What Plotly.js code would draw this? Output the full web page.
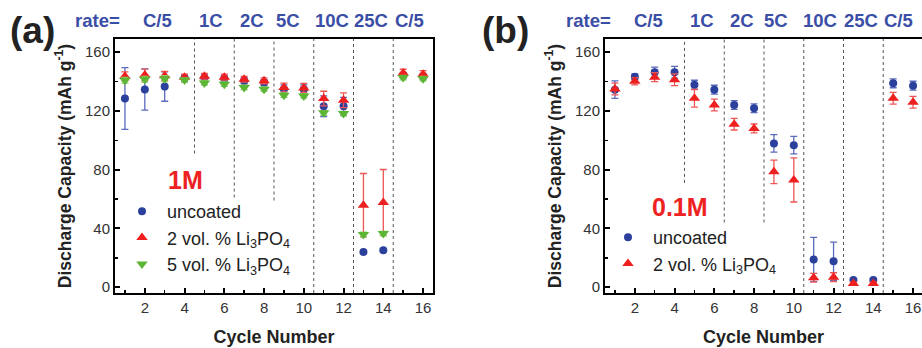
<!DOCTYPE html>
<html>
<head>
<meta charset="utf-8">
<script src="https://cdn.plot.ly/plotly-3.0.1.min.js"></script>
<style>html,body{margin:0;padding:0;background:#fff;}#chart{width:922px;height:348px;}</style>
</head>
<body>
<div id="chart"></div>
<script>
// ---------- data ----------
const cycles = [1, 2, 3, 4, 5, 6, 7, 8, 9, 10, 11, 12, 13, 14, 15, 16];
const rateLabels = ["C/5", "1C", "2C", "5C", "10C", "25C", "C/5"];

// panel (a): 1M
const a_uncoated     = [128.5, 134.6, 136.6, 142.5, 142.5, 142.0, 140.5, 139.3, 134.8, 134.8, 123.2, 123.2, 24.0, 25.2, 144.3, 143.6];
const a_uncoated_err = [21, 14, 10, 2, 2, 2, 2, 2, 3, 3, 7, 6, 1, 1, 2, 2];
const a_2vol         = [143.6, 144.5, 144.0, 143.0, 143.6, 143.0, 141.6, 140.5, 136.0, 135.7, 128.4, 127.3, 55.8, 57.7, 145.9, 145.0];
const a_2vol_err     = [3, 4, 3, 2, 2, 2, 2, 2, 3, 3, 5, 5, 21.6, 22.4, 2.5, 2.5];
const a_5vol         = [140.9, 141.6, 142.0, 141.0, 139.1, 138.2, 136.0, 134.8, 130.7, 130.2, 118.7, 118.2, 35.9, 36.5, 142.7, 142.0];
const a_5vol_err     = [2, 2, 2, 1.5, 1.5, 1.5, 1.5, 1.5, 1.5, 1.5, 1.5, 1.5, 1.5, 1.5, 1.5, 1.5];

// panel (b): 0.1M
const b_uncoated     = [134.5, 143.3, 146.3, 146.3, 137.9, 134.5, 124.0, 121.8, 97.9, 96.7, 18.9, 17.7, 4.8, 4.8, 138.8, 137.2];
const b_uncoated_err = [6, 2, 3.5, 4, 3, 3, 3, 3, 6, 6, 15, 13, 1, 1, 3, 3];
const b_2vol         = [135.0, 140.2, 143.0, 141.3, 128.6, 124.0, 111.0, 108.1, 78.5, 73.0, 6.4, 6.8, 2.5, 2.5, 128.6, 125.9];
const b_2vol_err     = [4, 2.5, 3, 4, 6, 4, 4, 3, 8, 15, 3, 3, 1, 1, 4, 4];

// ---------- layout helpers ----------
const FONT = "Liberation Sans, Arial, sans-serif";
const BLUE = "#2b3f9c", BLUE_ERR = "#5a6bbd";
const RED = "#ee1f1f", RED_ERR = "#f05555";
const GREEN = "#5db534", GREEN_ERR = "#8acb6a";
const RATE_BLUE = "#3a4ea6";
const YMIN = -4, YMAX = 169;

// rate-divider positions and where each dotted line stops (bottom), per panel
const dividerX = [4.5, 6.5, 8.5, 10.5, 12.5, 14.5];
const dividerBottomA = [91, 61, 59, YMIN, YMIN, YMIN];
const dividerBottomB = [71, 44, 44, YMIN, YMIN, YMIN];
const rateXA = [2.66, 5.35, 7.4, 9.2, 11.4, 13.4, 15.3];
const rateXB = [2.7, 5.37, 7.4, 9.1, 11.3, 13.4, 15.25];

function series(x, y, err, name, color, errColor, symbol, size, xa, ya, legend) {
  return {
    type: "scatter", mode: "markers", x: x, y: y, name: name,
    xaxis: xa, yaxis: ya, legend: legend,
    marker: {color: color, symbol: symbol, size: size, line: {width: 0}},
    error_y: {type: "data", array: err, visible: true, color: errColor, thickness: 1.3, width: 3.5}
  };
}

const traces = [
  series(cycles, a_uncoated, a_uncoated_err, "uncoated", BLUE, BLUE_ERR, "circle", 8, "x", "y", "legend"),
  series(cycles, a_2vol, a_2vol_err, "2 vol. % Li<sub>3</sub>PO<sub>4</sub>", RED, RED_ERR, "triangle-up", 10, "x", "y", "legend"),
  series(cycles, a_5vol, a_5vol_err, "5 vol. % Li<sub>3</sub>PO<sub>4</sub>", GREEN, GREEN_ERR, "triangle-down", 10, "x", "y", "legend"),
  series(cycles, b_uncoated, b_uncoated_err, "uncoated", BLUE, BLUE_ERR, "circle", 8, "x2", "y2", "legend2"),
  series(cycles, b_2vol, b_2vol_err, "2 vol. % Li<sub>3</sub>PO<sub>4</sub>", RED, RED_ERR, "triangle-up", 10, "x2", "y2", "legend2")
];

function xaxisDef(domain, range, anchor) {
  return {
    domain: domain, range: range, anchor: anchor,
    showline: true, linecolor: "#000", linewidth: 2, mirror: true,
    ticks: "inside", ticklen: 5, tickwidth: 2, tickcolor: "#000",
    tick0: 0, dtick: 2, showgrid: false, zeroline: false,
    minor: {ticks: "inside", ticklen: 3, tickwidth: 1.5, tickcolor: "#000", dtick: 1, showgrid: false},
    tickfont: {family: FONT, size: 15, color: "#333"},
    title: {text: "<b>Cycle Number</b>", font: {family: FONT, size: 18, color: "#222"}, standoff: 15}
  };
}
function yaxisDef(anchor, mirror) {
  return {
    domain: [0.158, 0.888], range: [YMIN, YMAX], anchor: anchor,
    showline: true, linecolor: "#000", linewidth: 2, mirror: mirror,
    ticks: "inside", ticklen: 5, tickwidth: 2, tickcolor: "#000",
    tick0: 0, dtick: 40, showgrid: false, zeroline: false,
    minor: {ticks: "inside", ticklen: 3, tickwidth: 1.5, tickcolor: "#000", dtick: 20, showgrid: false},
    tickfont: {family: FONT, size: 15, color: "#333"},
    title: {text: "<b>Discharge Capacity (mAh g<sup>-1</sup>)</b>", font: {family: FONT, size: 17.5, color: "#222"}, standoff: 9}
  };
}

const shapes = [];
dividerX.forEach((dx, i) => {
  shapes.push({type: "line", xref: "x", yref: "y", x0: dx, x1: dx, y0: dividerBottomA[i], y1: YMAX,
    line: {color: "#555", width: 1, dash: "dot"}, layer: "below"});
  shapes.push({type: "line", xref: "x2", yref: "y2", x0: dx, x1: dx, y0: dividerBottomB[i], y1: YMAX,
    line: {color: "#555", width: 1, dash: "dot"}, layer: "below"});
});

const annotations = [];
const rateY = 1 - 20 / 348;
const RATE_FONT = {family: FONT, size: 18.5, color: RATE_BLUE};
rateLabels.forEach((t, i) => {
  annotations.push({text: "<b>" + t + "</b>", xref: "x", yref: "paper", x: rateXA[i], y: rateY,
    showarrow: false, font: RATE_FONT, xanchor: "center", yanchor: "middle"});
  annotations.push({text: "<b>" + t + "</b>", xref: "x2", yref: "paper", x: rateXB[i], y: rateY,
    showarrow: false, font: RATE_FONT, xanchor: "center", yanchor: "middle"});
});
annotations.push({text: "<b>rate=</b>", xref: "paper", yref: "paper", x: 97 / 922, y: rateY, showarrow: false,
  font: RATE_FONT, xanchor: "center", yanchor: "middle"});
annotations.push({text: "<b>rate=</b>", xref: "paper", yref: "paper", x: 588 / 922, y: rateY, showarrow: false,
  font: RATE_FONT, xanchor: "center", yanchor: "middle"});
annotations.push({text: "<b>(a)</b>", xref: "paper", yref: "paper", x: 32 / 922, y: 1 - 30 / 348, showarrow: false,
  font: {family: FONT, size: 37, color: "#222"}, xanchor: "center", yanchor: "middle"});
annotations.push({text: "<b>(b)</b>", xref: "paper", yref: "paper", x: 505 / 922, y: 1 - 30 / 348, showarrow: false,
  font: {family: FONT, size: 37, color: "#222"}, xanchor: "center", yanchor: "middle"});
annotations.push({text: "<b>1M</b>", xref: "paper", yref: "paper", x: 185 / 922, y: 1 - 180 / 348, showarrow: false,
  font: {family: FONT, size: 25, color: "#ee2222"}, xanchor: "center", yanchor: "middle"});
annotations.push({text: "<b>0.1M</b>", xref: "paper", yref: "paper", x: 680 / 922, y: 1 - 207 / 348, showarrow: false,
  font: {family: FONT, size: 25, color: "#ee2222"}, xanchor: "center", yanchor: "middle"});

const layout = {
  width: 922, height: 348,
  margin: {l: 0, r: 0, t: 0, b: 0},
  paper_bgcolor: "#fff", plot_bgcolor: "#fff",
  font: {family: FONT},
  showlegend: true,
  xaxis: xaxisDef([115 / 922, 433 / 922], [0.5, 16.5], "y"),
  yaxis: yaxisDef("x", true),
  xaxis2: xaxisDef([605 / 922, 1], [0.5, 16.45], "y2"),
  yaxis2: yaxisDef("x2", false),
  legend: {x: 117 / 922, y: 1 - 193 / 348, xanchor: "left", yanchor: "top", bgcolor: "rgba(0,0,0,0)",
    font: {family: FONT, size: 18, color: "#222"}, tracegroupgap: 0, itemwidth: 40},
  legend2: {x: 603 / 922, y: 1 - 219 / 348, xanchor: "left", yanchor: "top", bgcolor: "rgba(0,0,0,0)",
    font: {family: FONT, size: 18, color: "#222"}, tracegroupgap: 0, itemwidth: 40},
  shapes: shapes,
  annotations: annotations
};

Plotly.newPlot("chart", traces, layout, {displayModeBar: false, staticPlot: true});
</script>
</body>
</html>
